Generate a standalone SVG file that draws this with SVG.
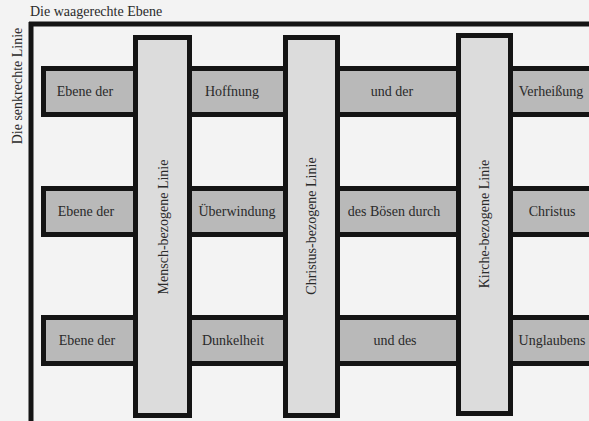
<svg xmlns="http://www.w3.org/2000/svg" width="589" height="421" viewBox="0 0 589 421">
<style>
.h{fill:#b9b9b9;stroke:#141414;stroke-width:5}
.v{fill:#dcdcdc;stroke:#141414;stroke-width:5}
.fr{stroke:#141414;stroke-width:5;fill:none}
text{font-family:"Liberation Serif","Times New Roman",serif;font-size:14px;fill:#2a2a2a}
.c{text-anchor:middle;dominant-baseline:central}
</style>
<rect x="0" y="0" width="589" height="421" fill="#f3f3f3"/>
<g id="frame">
<path class="fr" d="M29,24 H589 M31,22 V421"/>
<text x="30" y="16">Die waagerechte Ebene</text>
<text class="c" transform="translate(17,86) rotate(-90)">Die senkrechte Linie</text>
</g>
<g id="row1">
<rect class="h" x="43.5" y="68.5" width="92" height="46"/>
<rect class="h" x="189.5" y="68.5" width="96" height="46"/>
<rect class="h" x="337.5" y="68.5" width="121" height="46"/>
<rect class="h" x="510.5" y="68.5" width="90" height="46"/>
<text class="c" x="85" y="91">Ebene der</text>
<text class="c" x="232" y="91">Hoffnung</text>
<text class="c" x="392" y="91">und der</text>
<text class="c" x="551" y="91">Verheißung</text>
</g>
<g id="row2">
<rect class="h" x="43.5" y="188.5" width="92" height="46"/>
<rect class="h" x="189.5" y="188.5" width="96" height="46"/>
<rect class="h" x="337.5" y="188.5" width="121" height="46"/>
<rect class="h" x="510.5" y="188.5" width="90" height="46"/>
<text class="c" x="86" y="211">Ebene der</text>
<text class="c" x="237" y="211">Überwindung</text>
<text class="c" x="394" y="211">des Bösen durch</text>
<text class="c" x="552" y="211">Christus</text>
</g>
<g id="row3">
<rect class="h" x="43.5" y="317.5" width="92" height="46"/>
<rect class="h" x="189.5" y="317.5" width="96" height="46"/>
<rect class="h" x="337.5" y="317.5" width="121" height="46"/>
<rect class="h" x="510.5" y="317.5" width="90" height="46"/>
<text class="c" x="87" y="340">Ebene der</text>
<text class="c" x="233" y="340">Dunkelheit</text>
<text class="c" x="395" y="340">und des</text>
<text class="c" x="552" y="340">Unglaubens</text>
</g>
<g id="mensch">
<rect class="v" x="135.5" y="37.5" width="54" height="378"/>
<text class="c" transform="translate(163,227) rotate(-90)">Mensch-bezogene Linie</text>
</g>
<g id="christus">
<rect class="v" x="285.5" y="37.5" width="52" height="378"/>
<text class="c" transform="translate(311,226) rotate(-90)">Christus-bezogene Linie</text>
</g>
<g id="kirche">
<rect class="v" x="458.5" y="35.5" width="52" height="378"/>
<text class="c" transform="translate(484,224) rotate(-90)">Kirche-bezogene Linie</text>
</g>
</svg>
